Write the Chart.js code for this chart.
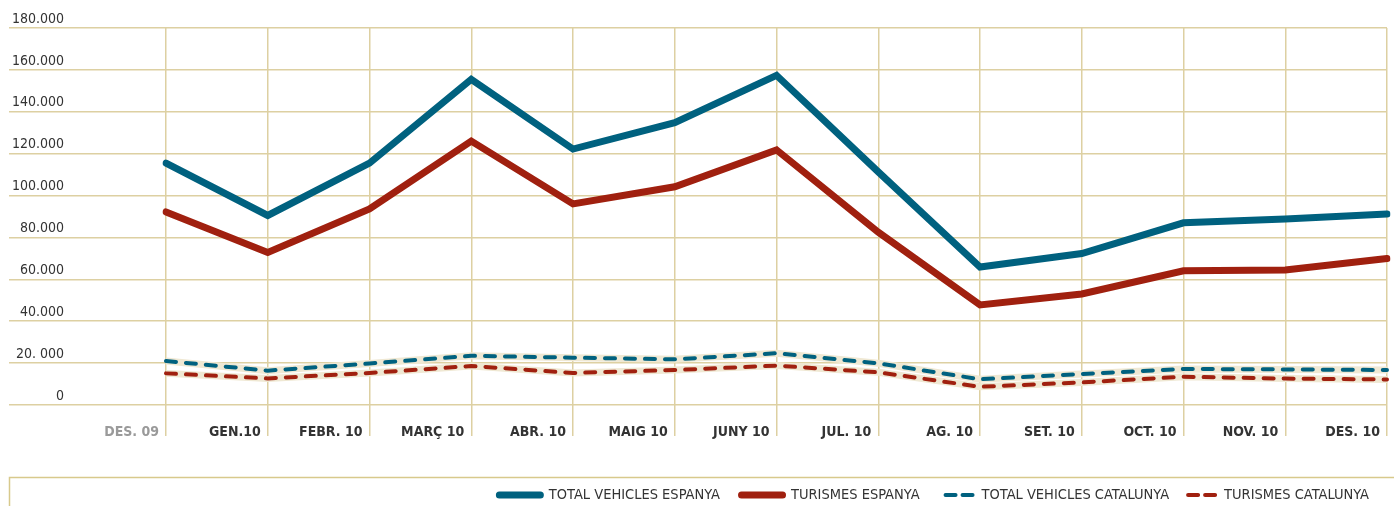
<!DOCTYPE html>
<html>
<head>
<meta charset="utf-8">
<script src="https://cdn.jsdelivr.net/npm/chart.js@4.4.0/dist/chart.umd.min.js"></script>
<style>
  html, body { margin: 0; padding: 0; background: #fff; }
  canvas { display: block; }
</style>
</head>
<body>
<canvas id="grafic" width="1394" height="506"></canvas>
<script>
const mesos = ['DES. 09', 'GEN.10', 'FEBR. 10', 'MARÇ 10', 'ABR. 10', 'MAIG 10', 'JUNY 10', 'JUL. 10', 'AG. 10', 'SET. 10', 'OCT. 10', 'NOV. 10', 'DES. 10'];
const etiquetesY = ['0', '20. 000', '40.000', '60.000', '80.000', '100.000', '120.000', '140.000', '160.000', '180.000'];

const totalEspanya = [115500, 90500, 115500, 155500, 122200, 134800, 157400, 111300, 65900, 72300, 87000, 88800, 91200];
const turismesEspanya = [92200, 72800, 93600, 126000, 96000, 104200, 121800, 82500, 47800, 53000, 64100, 64500, 69900];
const totalCatalunya = [21000, 16400, 19800, 23500, 22600, 21800, 24700, 19900, 12300, 14800, 17200, 17000, 16700];
const turismesCatalunya = [15100, 12700, 15300, 18600, 15300, 16700, 18800, 15600, 8700, 10800, 13500, 12600, 12200];

const noms = ['TOTAL VEHICLES ESPANYA', 'TURISMES ESPANYA', 'TOTAL VEHICLES CATALUNYA', 'TURISMES CATALUNYA'];

const blau = '#00617f';
const vermell = '#a0200f';
const beix = '#efe8d3';
const graella = '#ddd0a2';
const lletra = '"Liberation Sans Narrow", "DejaVu Sans Condensed", "Arial Narrow", sans-serif';

// llegenda dibuixada a mà, a sota del gràfic
const llegenda = {
    id: 'llegenda',
    afterDraw(chart) {
        const ctx = chart.ctx;
        ctx.save();
        ctx.strokeStyle = '#d8c98c';
        ctx.lineWidth = 1.5;
        ctx.beginPath();
        ctx.moveTo(9.5, 506);
        ctx.lineTo(9.5, 477.5);
        ctx.lineTo(1394, 477.5);
        ctx.stroke();

        ctx.font = '14.5px ' + lletra;
        ctx.textBaseline = 'middle';
        ctx.lineCap = 'round';
        const y = 495;
        const separacio = [18, 24, 17];
        let x = 1369;
        for (let i = noms.length - 1; i >= 0; i--) {
            const ds = chart.data.datasets[i];
            const w = ctx.measureText(noms[i]).width;
            x -= w;
            ctx.fillStyle = '#333';
            ctx.fillText(noms[i], x, y);
            const discontinua = !!ds.borderDash;
            const mostra = discontinua ? 31 : 48;
            x -= (discontinua ? 7 : 5) + mostra;
            ctx.strokeStyle = ds.borderColor;
            ctx.beginPath();
            if (discontinua) {
                ctx.lineWidth = 4;
                ctx.moveTo(x + 2, y); ctx.lineTo(x + 12, y);
                ctx.moveTo(x + 19, y); ctx.lineTo(x + 29, y);
            } else {
                ctx.lineWidth = 7;
                ctx.moveTo(x + 3.5, y); ctx.lineTo(x + mostra - 3.5, y);
            }
            ctx.stroke();
            if (i > 0) x -= separacio[i - 1];
        }
        ctx.restore();
    }
};

new Chart(document.getElementById('grafic'), {
    type: 'line',
    data: {
        labels: mesos,
        datasets: [
            { label: noms[0], data: totalEspanya, borderColor: blau, borderWidth: 7, borderCapStyle: 'round', order: 0 },
            { label: noms[1], data: turismesEspanya, borderColor: vermell, borderWidth: 7, borderCapStyle: 'round', order: 1 },
            { label: noms[2], data: totalCatalunya, borderColor: blau, borderWidth: 4, borderDash: [10, 10], borderCapStyle: 'round', order: 2 },
            { label: noms[3], data: turismesCatalunya, borderColor: vermell, borderWidth: 4, borderDash: [10, 10], borderCapStyle: 'round', order: 3 },
            // vora clara sota les línies discontínues
            { label: '', data: totalCatalunya, borderColor: beix, borderWidth: 7, order: 4 },
            { label: '', data: turismesCatalunya, borderColor: beix, borderWidth: 7, order: 5 }
        ]
    },
    options: {
        responsive: false,
        animation: false,
        layout: { autoPadding: false, padding: { left: 9, right: 7, top: 28, bottom: 0 } },
        plugins: { legend: { display: false }, tooltip: { enabled: false } },
        elements: { point: { radius: 0 }, line: { tension: 0, fill: false } },
        scales: {
            x: {
                offset: false,
                grid: { color: graella, lineWidth: 1.5, tickLength: 31, offset: false },
                border: { display: false },
                ticks: {
                    align: 'end',
                    labelOffset: -7,
                    padding: -12,
                    autoSkip: false,
                    maxRotation: 0,
                    font: { family: lletra, size: 14, weight: 'bold' },
                    color: (c) => c.index === 0 ? '#9a9a9a' : '#333'
                },
                afterFit: (s) => { s.height = 101; }
            },
            y: {
                min: 0,
                max: 180000,
                grid: { color: graella, lineWidth: 1.5, tickLength: 157 },
                border: { display: false },
                ticks: {
                    stepSize: 20000,
                    padding: -55,
                    labelOffset: -9,
                    font: { family: lletra, size: 14 },
                    color: '#333',
                    callback: (v, i) => etiquetesY[i]
                },
                afterFit: (s) => { s.width = 157; }
            }
        }
    },
    plugins: [llegenda]
});
</script>
</body>
</html>
